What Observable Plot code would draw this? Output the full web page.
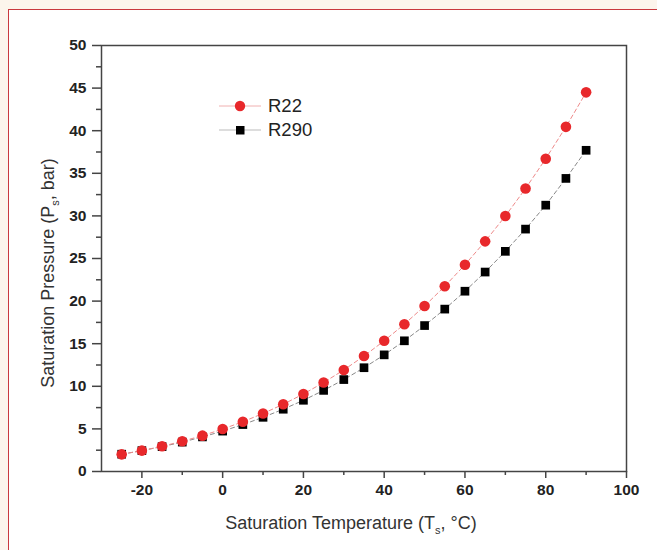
<!DOCTYPE html>
<html>
<head>
<meta charset="utf-8">
<script src="https://cdn.jsdelivr.net/npm/d3@7"></script>
<script src="https://cdn.jsdelivr.net/npm/@observablehq/plot@0.6"></script>
<style>
  html, body { margin: 0; padding: 0; background: #fcf5ec; }
  #wrap { position: relative; width: 657px; height: 550px; overflow: hidden; }
  #panel { position: absolute; left: 8px; top: 9px; width: 700px; height: 600px; background: #fff;
           border-left: 1.5px solid #c9393e; border-top: 1.5px solid #c9393e; }
  #chart { position: absolute; left: 0; top: 0; }
  #legend { position: absolute; left: 219px; top: 94px; font-family: "Liberation Sans", Arial, sans-serif;
            font-size: 18.5px; color: #222; }
  #legend .row { display: flex; align-items: center; height: 24px; }
  #legend svg { margin-right: 7px; }
</style>
</head>
<body>
<div id="wrap">
  <div id="panel"></div>
  <div id="chart"></div>
  <div id="legend"></div>
</div>
<script>
const temps = [-25,-20,-15,-10,-5,0,5,10,15,20,25,30,35,40,45,50,55,60,65,70,75,80,85,90];
const r22 = [2.01,2.45,2.96,3.55,4.21,4.98,5.84,6.81,7.89,9.10,10.44,11.92,13.55,15.34,17.29,19.42,21.74,24.27,27.01,29.98,33.21,36.71,40.45,44.5];
const r290 = [2.03,2.45,2.92,3.45,4.06,4.74,5.51,6.36,7.31,8.36,9.52,10.79,12.18,13.69,15.34,17.13,19.06,21.16,23.41,25.84,28.45,31.26,34.4,37.7];
const seriesNames = ["R22", "R290"];
const xMajor = [-20,0,20,40,60,80,100];
const xMinor = [-10,10,30,50,70,90];
const yMajor = [0,5,10,15,20,25,30,35,40,45,50];
const yMinor = [2.5,7.5,12.5,17.5,22.5,27.5,32.5,37.5,42.5,47.5];

const d22 = temps.map((t,i) => ({t, p: r22[i]}));
const d290 = temps.map((t,i) => ({t, p: r290[i]}));

const red = "#e8282b";
const font = "'Liberation Sans', Arial, sans-serif";
const fmt = d => String(d);

const plot = Plot.plot({
  width: 657,
  height: 550,
  marginLeft: 101,
  marginRight: 31,
  marginTop: 45,
  marginBottom: 79,
  style: {background: "transparent", fontFamily: font, overflow: "visible"},
  x: {domain: [-30, 100]},
  y: {domain: [0, 50]},
  marks: [
    Plot.axisX({ticks: xMajor, tickSize: 7, tickPadding: 5, tickFormat: fmt, label: null, stroke: "#444", strokeWidth: 1.5,
                fill: "#222", fontSize: 15.5, fontWeight: "bold"}),
    Plot.axisX({ticks: xMinor, tickSize: 4, label: null, tickFormat: () => "", stroke: "#444", strokeWidth: 1.5}),
    Plot.axisY({ticks: yMajor, tickSize: 9, tickPadding: 6, tickFormat: fmt, label: null, stroke: "#444", strokeWidth: 1.5,
                fill: "#222", fontSize: 15.5, fontWeight: "bold"}),
    Plot.axisY({ticks: yMinor, tickSize: 5, label: null, tickFormat: () => "", stroke: "#444", strokeWidth: 1.5}),
    Plot.frame({stroke: "#444", strokeWidth: 1.5}),
    Plot.line(d290, {x: "t", y: "p", stroke: "#888", strokeWidth: 1, strokeDasharray: "4,3"}),
    Plot.line(d22, {x: "t", y: "p", stroke: "#ee8a8a", strokeWidth: 1, strokeDasharray: "4,3"}),
    Plot.dot(d290, {x: "t", y: "p", symbol: "square", r: 4.9, fill: "#000", stroke: "none"}),
    Plot.dot(d22, {x: "t", y: "p", symbol: "circle", r: 5.3, fill: red, stroke: "none"})
  ]
});
document.getElementById("chart").appendChild(plot);

// axis titles with subscripts
const svg = d3.select(plot);
const xl = svg.append("text")
  .attr("x", 351).attr("y", 529)
  .attr("text-anchor", "middle")
  .attr("font-family", font).attr("font-size", 18).attr("font-weight", "normal").attr("fill", "#333");
xl.append("tspan").text("Saturation Temperature (T");
xl.append("tspan").attr("font-size", 11).attr("dy", 5).text("s");
xl.append("tspan").attr("dy", -5).text(", °C)");

const yl = svg.append("text")
  .attr("transform", "translate(54,273) rotate(-90)")
  .attr("text-anchor", "middle")
  .attr("font-family", font).attr("font-size", 18).attr("font-weight", "normal").attr("fill", "#333");
yl.append("tspan").text("Saturation Pressure (P");
yl.append("tspan").attr("font-size", 11).attr("dy", 5).text("s");
yl.append("tspan").attr("dy", -5).text(", bar)");

// legend
const legend = d3.select("#legend");
seriesNames.forEach((name, i) => {
  const row = legend.append("div").attr("class", "row");
  const s = row.append("svg").attr("width", 42).attr("height", 20);
  s.append("line").attr("x1", 0).attr("x2", 42).attr("y1", 10).attr("y2", 10)
    .attr("stroke", i === 0 ? "#f0b0b0" : "#bbb").attr("stroke-width", 1);
  if (i === 0) s.append("circle").attr("cx", 21).attr("cy", 10).attr("r", 5.2).attr("fill", red);
  else s.append("rect").attr("x", 17).attr("y", 6).attr("width", 8.5).attr("height", 8.5).attr("fill", "#000");
  row.append("span").text(name);
});
</script>
</body>
</html>
